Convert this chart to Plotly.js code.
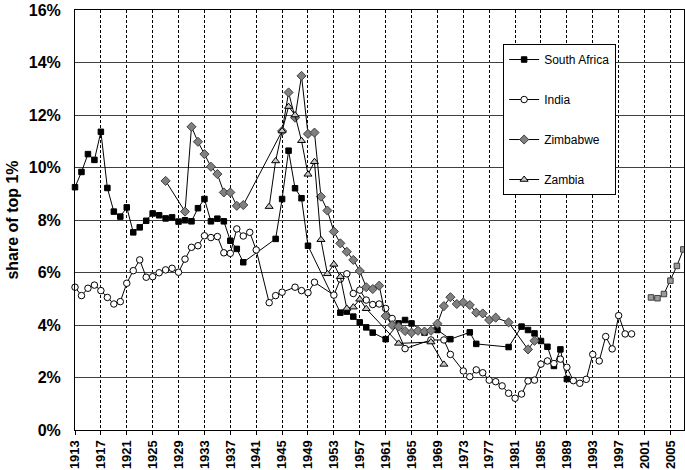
<!DOCTYPE html>
<html>
<head>
<meta charset="utf-8">
<script src="https://cdn.plot.ly/plotly-3.0.1.min.js"></script>
<style>html,body{margin:0;padding:0;background:#fff;}#chart{width:685px;height:470px;}</style>
</head>
<body>
<div id="chart"></div>
<script>
// ---- data (share of top 1%, in percent) ----
const saYears = [1913,1914,1915,1916,1917,1918,1919,1920,1921,1922,1923,1924,1925,1926,1927,1928,1929,1930,1931,1932,1933,1934,1935,1936,1937,1938,1939,1944,1945,1946,1947,1948,1949,1954,1955,1956,1957,1958,1959,1961,1963,1964,1965,1967,1969,1971,1974,1975,1980,1982,1983,1984,1985,1986,1987,1988,1989];
const saValues = [9.25,9.83,10.51,10.29,11.36,9.22,8.32,8.13,8.48,7.53,7.72,7.97,8.25,8.18,8.06,8.10,7.94,7.99,7.95,8.45,8.80,7.95,8.05,7.95,7.21,6.90,6.39,7.28,8.80,10.64,9.21,8.83,7.02,4.47,4.51,4.32,4.10,3.91,3.71,3.46,4.06,4.19,4.06,3.71,3.81,3.46,3.72,3.28,3.16,3.94,3.81,3.68,3.39,3.17,2.44,3.07,1.94];

const saRecentYears = [2002,2003,2004,2005,2006,2007];
const saRecentValues = [5.05,5.02,5.18,5.69,6.25,6.88];

const indiaYears = [1913,1914,1915,1916,1917,1918,1919,1920,1921,1922,1923,1924,1925,1926,1927,1928,1929,1930,1931,1932,1933,1934,1935,1936,1937,1938,1939,1940,1941,1943,1944,1945,1947,1948,1949,1950,1953,1954,1955,1956,1957,1958,1959,1960,1961,1962,1964,1968,1970,1971,1973,1974,1975,1976,1977,1978,1979,1980,1981,1982,1983,1984,1985,1986,1987,1988,1989,1990,1991,1992,1993,1994,1995,1996,1997,1998,1999];
const indiaValues = [5.44,5.12,5.40,5.52,5.31,5.05,4.80,4.89,5.59,6.07,6.48,5.82,5.84,5.99,6.10,6.16,6.01,6.51,6.96,7.02,7.40,7.33,7.37,6.75,6.73,7.66,7.39,7.53,6.86,4.85,5.12,5.25,5.44,5.31,5.23,5.63,5.14,5.75,5.95,5.20,5.33,4.95,4.78,4.80,4.63,4.25,3.10,3.43,3.43,2.88,2.25,2.03,2.29,2.18,1.90,1.84,1.68,1.40,1.21,1.37,1.87,1.90,2.51,2.63,2.53,2.70,2.39,1.88,1.78,1.93,2.88,2.63,3.56,3.09,4.36,3.66,3.66];

const zimYears = [1927,1930,1931,1932,1933,1934,1935,1936,1937,1938,1939,1945,1946,1947,1948,1949,1950,1951,1952,1953,1954,1955,1956,1957,1958,1959,1960,1961,1962,1963,1964,1965,1966,1967,1968,1969,1970,1971,1972,1973,1974,1975,1976,1977,1978,1980,1983,1984];
const zimValues = [9.49,8.32,11.55,10.98,10.51,10.03,9.75,9.05,9.05,8.54,8.57,11.39,12.86,11.90,13.49,11.28,11.33,8.89,8.36,7.56,7.11,6.79,6.48,6.06,5.44,5.37,5.50,4.34,4.00,3.94,3.77,3.71,3.78,3.75,3.78,4.05,4.72,5.06,4.80,4.86,4.76,4.47,4.44,4.19,4.28,4.10,3.07,3.40];

const zamYears = [1943,1944,1945,1946,1947,1948,1949,1950,1951,1952,1953,1954,1955,1956,1957,1958,1963,1968,1970];
const zamValues = [8.51,10.25,11.39,12.32,12.00,11.02,9.74,10.22,7.25,5.95,6.31,5.84,4.63,4.68,4.98,4.62,3.30,3.35,2.50];

const xTickYears = [1913,1917,1921,1925,1929,1933,1937,1941,1945,1949,1953,1957,1961,1965,1969,1973,1977,1981,1985,1989,1993,1997,2001,2005];
const yTickValues = [0,2,4,6,8,10,12,14,16];

const FONT = 'Liberation Sans, Arial, sans-serif';

function series(name, xs, ys, marker, group, showlegend) {
  return {
    type: 'scatter', mode: 'lines+markers', name: name,
    x: xs, y: ys, legendgroup: group, showlegend: showlegend,
    line: {color: '#000000', width: 1},
    marker: marker, cliponaxis: false,
    hoverinfo: 'x+y+name'
  };
}

const traces = [
  series('South Africa', saYears, saValues, {symbol: 'square', size: 5.5, color: '#000000', line: {color: '#000000', width: 1}}, 'g1', true),
  series('India', indiaYears, indiaValues, {symbol: 'circle', size: 6.5, color: '#ffffff', line: {color: '#000000', width: 1}}, 'g2', true),
  series('Zimbabwe', zimYears, zimValues, {symbol: 'diamond', size: 7, color: '#808080', line: {color: '#404040', width: 1}}, 'g3', true),
  series('Zambia', zamYears, zamValues, {symbol: 'triangle-up', size: 7, color: '#c8c8c8', line: {color: '#000000', width: 1}}, 'g4', true),
  series('South Africa (recent)', saRecentYears, saRecentValues, {symbol: 'square', size: 5.5, color: '#999999', line: {color: '#404040', width: 1}}, 'g5', false)
];

const layout = {
  width: 685, height: 470,
  margin: {l: 75, r: 1, t: 10, b: 40},
  paper_bgcolor: '#ffffff', plot_bgcolor: '#ffffff',
  font: {family: FONT, color: '#000000'},
  showlegend: true,
  legend: {
    x: 0.703, y: 0.919, xanchor: 'left', yanchor: 'top',
    bgcolor: '#ffffff', bordercolor: '#000000', borderwidth: 1,
    font: {family: FONT, size: 12, color: '#000000'},
    tracegroupgap: 21, itemwidth: 30
  },
  xaxis: {
    range: [1913, 2007.1], tickmode: 'array', tickvals: xTickYears,
    ticktext: xTickYears.map(String), tickangle: -90,
    tickfont: {family: FONT, size: 13, color: '#000000', weight: 'bold'},
    showgrid: true, gridcolor: '#000000', gridwidth: 1, griddash: '3px,2px',
    showline: true, linecolor: '#000000', linewidth: 1, mirror: true,
    ticks: 'outside', ticklen: 4, tickcolor: '#000000',
    zeroline: false, fixedrange: true
  },
  yaxis: {
    range: [0, 16], tickmode: 'array', tickvals: yTickValues,
    ticktext: yTickValues.map(v => v + '%'),
    tickfont: {family: FONT, size: 16, color: '#000000', weight: 'bold'},
    ticklabelstandoff: 10,
    showgrid: true, gridcolor: '#404040', gridwidth: 1,
    showline: true, linecolor: '#000000', linewidth: 1, mirror: true,
    ticks: '', zeroline: false, fixedrange: true,
    title: {text: 'share of top 1%', font: {family: FONT, size: 16, color: '#000000', weight: 'bold'}, standoff: 6}
  }
};

Plotly.newPlot('chart', traces, layout, {displayModeBar: false, staticPlot: true});
</script>
</body>
</html>
